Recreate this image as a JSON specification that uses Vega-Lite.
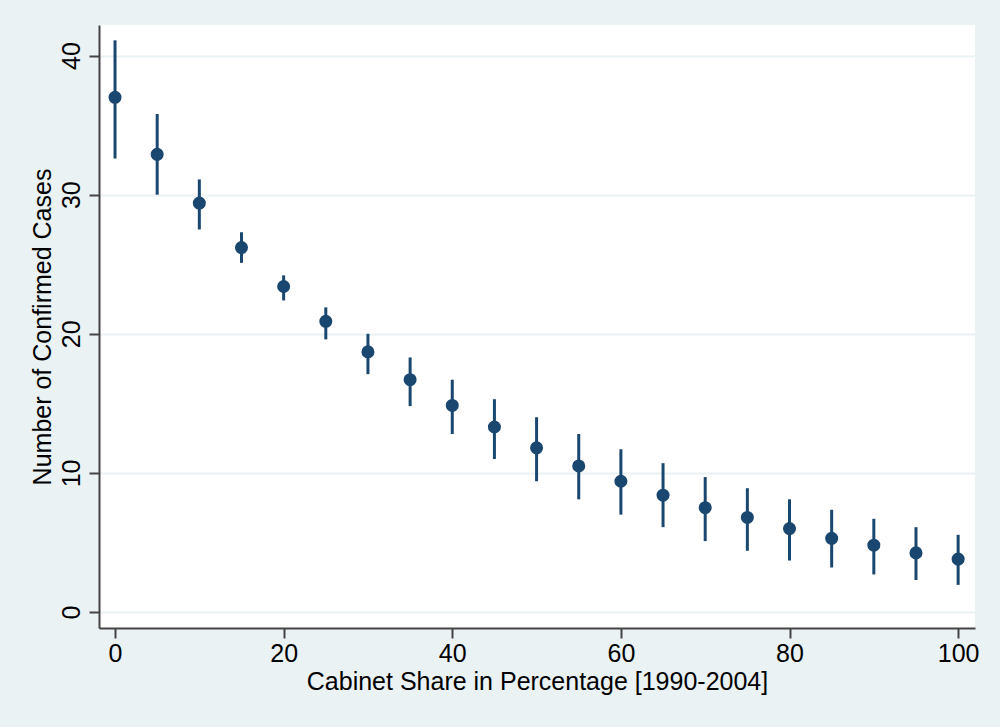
{
  "$schema": "https://vega.github.io/schema/vega-lite/v6.json",
  "width": 876,
  "height": 603,
  "autosize": {"type": "none"},
  "padding": {"left": 99, "top": 25, "right": 25, "bottom": 99},
  "background": "#eaf2f3",
  "config": {
    "view": {"fill": "white", "stroke": null},
    "font": "Liberation Sans",
    "axis": {
      "labelFont": "Liberation Sans",
      "titleFont": "Liberation Sans",
      "labelColor": "black",
      "titleColor": "black",
      "titleFontWeight": "normal",
      "labelFontSize": 25,
      "titleFontSize": 25,
      "domainColor": "#444444",
      "domainWidth": 2,
      "tickColor": "#444444",
      "tickWidth": 2,
      "tickSize": 10
    }
  },
  "data": {
    "values": [
      {"share": 0, "cases": 37.0, "lo": 32.6, "hi": 41.1},
      {"share": 5, "cases": 32.9, "lo": 30.0, "hi": 35.8},
      {"share": 10, "cases": 29.4, "lo": 27.5, "hi": 31.1},
      {"share": 15, "cases": 26.2, "lo": 25.1, "hi": 27.3},
      {"share": 20, "cases": 23.4, "lo": 22.4, "hi": 24.2},
      {"share": 25, "cases": 20.9, "lo": 19.6, "hi": 21.9},
      {"share": 30, "cases": 18.7, "lo": 17.1, "hi": 20.0},
      {"share": 35, "cases": 16.7, "lo": 14.8, "hi": 18.3},
      {"share": 40, "cases": 14.85, "lo": 12.8, "hi": 16.7},
      {"share": 45, "cases": 13.3, "lo": 11.0, "hi": 15.3},
      {"share": 50, "cases": 11.8, "lo": 9.4, "hi": 14.0},
      {"share": 55, "cases": 10.5, "lo": 8.1, "hi": 12.8},
      {"share": 60, "cases": 9.4, "lo": 7.0, "hi": 11.7},
      {"share": 65, "cases": 8.4, "lo": 6.1, "hi": 10.7},
      {"share": 70, "cases": 7.5, "lo": 5.1, "hi": 9.7},
      {"share": 75, "cases": 6.8, "lo": 4.4, "hi": 8.9},
      {"share": 80, "cases": 6.0, "lo": 3.7, "hi": 8.1},
      {"share": 85, "cases": 5.3, "lo": 3.2, "hi": 7.35},
      {"share": 90, "cases": 4.8, "lo": 2.7, "hi": 6.7},
      {"share": 95, "cases": 4.25, "lo": 2.3, "hi": 6.1},
      {"share": 100, "cases": 3.8, "lo": 1.95, "hi": 5.55}
    ]
  },
  "layer": [
    {
      "mark": {"type": "rule", "color": "#1a476f", "strokeWidth": 3},
      "encoding": {
        "x": {"field": "share", "type": "quantitative",
          "scale": {"domain": [-1.9, 102], "nice": false, "zero": false},
          "axis": {"values": [0, 20, 40, 60, 80, 100], "grid": false, "title": "Cabinet Share in Percentage [1990-2004]", "labelPadding": 3, "titlePadding": 3}},
        "y": {"field": "lo", "type": "quantitative",
          "scale": {"domain": [-1.15, 42.2], "nice": false, "zero": false},
          "axis": {"values": [0, 10, 20, 30, 40], "grid": true, "gridColor": "#eaf2f3", "gridWidth": 2,
            "labelAngle": 270, "labelAlign": "center", "labelBaseline": "bottom", "labelPadding": 5,
            "title": "Number of Confirmed Cases", "titlePadding": 4}},
        "y2": {"field": "hi"}
      }
    },
    {
      "mark": {"type": "circle", "color": "#1a476f", "opacity": 1, "size": 170},
      "encoding": {
        "x": {"field": "share", "type": "quantitative"},
        "y": {"field": "cases", "type": "quantitative"}
      }
    }
  ]
}
